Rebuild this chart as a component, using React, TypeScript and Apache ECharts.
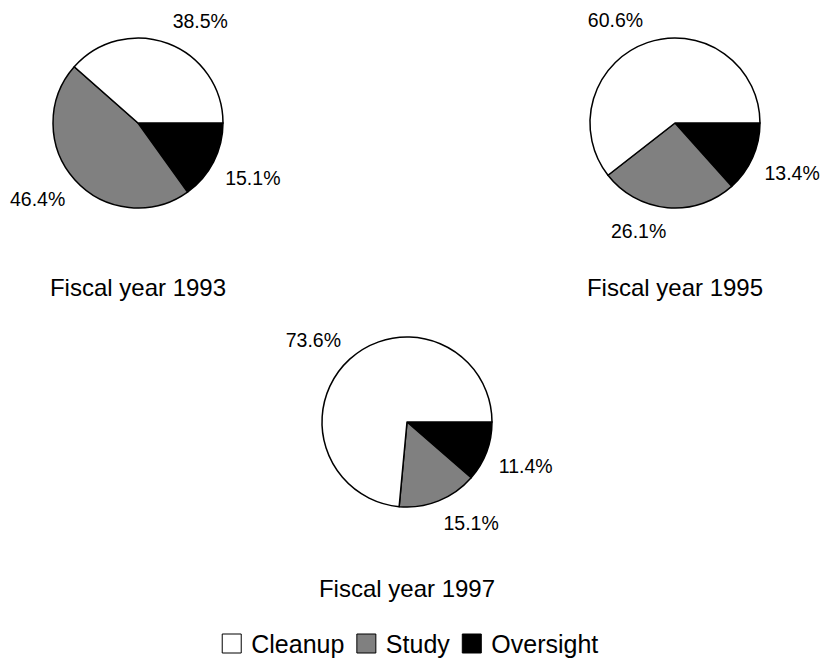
import React, { useEffect, useRef } from "react";
import * as echarts from "echarts";

const categories = ["Oversight", "Study", "Cleanup"];
const legendOrder = ["Cleanup", "Study", "Oversight"];
const colors: Record<string, string> = { Cleanup: "#ffffff", Study: "#808080", Oversight: "#000000" };
const years = ["Fiscal year 1993", "Fiscal year 1995", "Fiscal year 1997"];
const values1993 = [15.1, 46.4, 38.5];
const values1995 = [13.4, 26.1, 60.6];
const values1997 = [11.4, 15.1, 73.6];

const FONT = "'Liberation Sans', Arial, Helvetica, sans-serif";

export default function App() {
  const ref = useRef<HTMLDivElement>(null);
  useEffect(() => {
    if (!ref.current) return;
    const chart = echarts.init(ref.current, undefined, { renderer: "svg" });
    const allValues = [values1993, values1995, values1997];
    const centers: [number, number][] = [
      [138, 123],
      [675, 123],
      [407, 422],
    ];
    const radius = 85;
    const labelR = 98;

    const midAngles = allValues.map((vals) => {
      const total = vals.reduce((a, b) => a + b, 0);
      let cum = 0;
      return vals.map((v) => {
        const mid = ((cum + v / 2) / total) * 2 * Math.PI;
        cum += v;
        return mid;
      });
    });

    const series = allValues.map((vals, si) => ({
      type: "pie",
      center: centers[si],
      radius: radius,
      startAngle: 0,
      clockwise: true,
      silent: true,
      animation: false,
      avoidLabelOverlap: false,
      emphasis: { disabled: true },
      itemStyle: { borderColor: "#000", borderWidth: 1.5 },
      label: {
        show: true,
        position: "outside",
        formatter: "{c}%",
        color: "#000",
        fontSize: 19.5,
        fontFamily: FONT,
        overflow: "none",
        alignTo: "none",
      },
      labelLine: { show: false },
      labelLayout: (params: any) => {
        const a = midAngles[si][params.dataIndex];
        const c = Math.cos(a);
        const s = Math.sin(a);
        return {
          x: centers[si][0] + labelR * c,
          y: centers[si][1] + labelR * s,
          align: c >= 0 ? "left" : "right",
          verticalAlign: s >= 0 ? "top" : "bottom",
        };
      },
      data: categories.map((name, i) => ({
        name,
        value: vals[i],
        itemStyle: { color: colors[name] },
      })),
    }));

    const titleTops = [275, 275, 576];
    const title = years.map((t, i) => ({
      text: t,
      left: centers[i][0],
      top: titleTops[i],
      textAlign: "center",
      padding: 0,
      textStyle: { fontSize: 24, fontWeight: "normal", color: "#000", fontFamily: FONT },
    }));

    chart.setOption({
      animation: false,
      backgroundColor: "#ffffff",
      title,
      legend: {
        data: legendOrder,
        left: "center",
        top: 631,
        padding: 0,
        icon: "rect",
        itemWidth: 19,
        itemHeight: 19,
        itemGap: 12,
        selectedMode: false,
        itemStyle: { borderColor: "#000", borderWidth: 1 },
        textStyle: { fontSize: 25, color: "#000", fontFamily: FONT, padding: [0, 0, 0, 5] },
      },
      series,
    });
    return () => chart.dispose();
  }, []);
  return (
    <div
      ref={ref}
      style={{ position: "fixed", left: 0, top: 0, width: 820, height: 661, background: "#fff" }}
    />
  );
}
